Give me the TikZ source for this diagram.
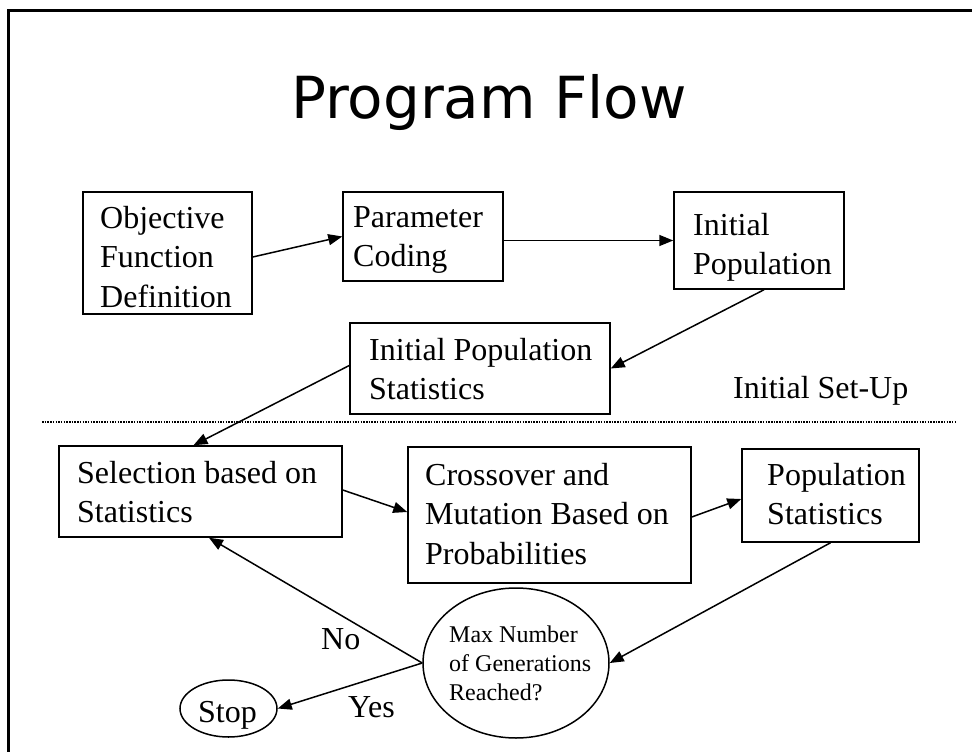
\documentclass[tikz,border=0pt]{standalone}
\usepackage{fontspec}
\setmainfont{Liberation Serif}
\newfontfamily\titlefont{DejaVu Sans}
\usetikzlibrary{arrows.meta,shapes.geometric}
\newcommand\bodyfont{\fontsize{32}{39.5}\selectfont}
\newcommand\smallbody{\fontsize{24}{29}\selectfont}
\newcommand\tstrut{\rule{0pt}{27pt}}
\newcommand\sstrut{\rule{0pt}{20pt}}
\begin{document}
\begin{tikzpicture}[x=1pt,y=-1pt,
  box/.style={draw, line width=1.5pt, inner sep=0pt},
  oval/.style={draw, ellipse, line width=1.5pt, inner sep=0pt},
  txt/.style={anchor=north west, inner sep=0pt, align=left, font=\bodyfont},
  conn/.style={line width=1.5pt, -{Triangle[length=14pt,width=11pt]}},
  lbl/.style={anchor=base west, inner sep=0pt, font=\bodyfont}]
\useasboundingbox (0,0) rectangle (972,752);
% frame
\coordinate (fbl) at (8,752);
\coordinate (ftl) at (8,11);
\coordinate (ftr) at (972,11);
\draw[line width=3pt] (fbl) -- (ftl) -- (ftr);
% title
\node[anchor=base, inner sep=0pt, font=\titlefont\fontsize{58}{70}\selectfont] (title) at (489,118) {Program Flow};
% boxes
\node[box, minimum width=169pt, minimum height=122pt] (obj) at (167.5,253) {};
\node[txt] (obj-t) at (100,201) {\tstrut Objective\\Function\\Definition};
\node[box, minimum width=160pt, minimum height=89pt] (param) at (423,236.5) {};
\node[txt] (param-t) at (353,200) {\tstrut Parameter\\Coding};
\node[box, minimum width=170pt, minimum height=97pt] (initpop) at (759,240.5) {};
\node[txt] (initpop-t) at (693,208) {\tstrut Initial\\Population};
\node[box, minimum width=260pt, minimum height=91pt] (ipstats) at (480,368.5) {};
\node[txt] (ipstats-t) at (369,333) {\tstrut Initial Population\\Statistics};
\node[box, minimum width=283pt, minimum height=91pt] (sel) at (200.5,491.5) {};
\node[txt] (sel-t) at (77,456) {\tstrut Selection based on\\Statistics};
\node[box, minimum width=283pt, minimum height=136pt] (cross) at (549.5,515) {};
\node[txt] (cross-t) at (425,458) {\tstrut Crossover and\\Mutation Based on\\Probabilities};
\node[box, minimum width=177pt, minimum height=93pt] (popstats) at (830.5,495.5) {};
\node[txt] (popstats-t) at (767,458) {\tstrut Population\\Statistics};
% decision and stop
\node[oval, minimum width=186pt, minimum height=150pt] (max) at (516,663) {};
\node[txt, font=\smallbody] (max-t) at (449,622) {\sstrut Max Number\\of Generations\\Reached?};
\node[oval, minimum width=97pt, minimum height=57pt] (stop) at (228.5,708.5) {};
\node[anchor=base, inner sep=0pt, font=\bodyfont] (stop-t) at (227.5,722) {Stop};
% separator
\coordinate (sepl) at (42,422);
\coordinate (sepr) at (957,422);
\draw[line width=1.5pt, dash pattern=on 1.5pt off 1.2pt] (sepl) -- (sepr);
\node[lbl] (setup) at (733,398) {Initial Set-Up};
% connectors
\draw[conn] ([yshift=-4pt]obj.east) -- (param.west);
\draw[conn] (param.east |- initpop.west) -- (initpop.west);
\draw[conn] ([xshift=5pt]initpop.south) -- (ipstats.east);
\draw[conn] ([yshift=3pt]ipstats.west) -- ([xshift=-7pt]sel.north);
\draw[conn] ([yshift=1.5pt]sel.east) -- ([yshift=3pt]cross.west);
\draw[conn] ([yshift=-2pt]cross.east) -- ([yshift=-3.5pt]popstats.west);
\draw[conn] (popstats.south) -- (max.east);
\draw[conn] (max.west) -- ([xshift=8.5pt]sel.south);
\draw[conn] (max.west) -- (stop.east);
\node[lbl] (no) at (321,649) {No};
\node[lbl] (yes) at (348,717) {Yes};
\end{tikzpicture}
\end{document}
